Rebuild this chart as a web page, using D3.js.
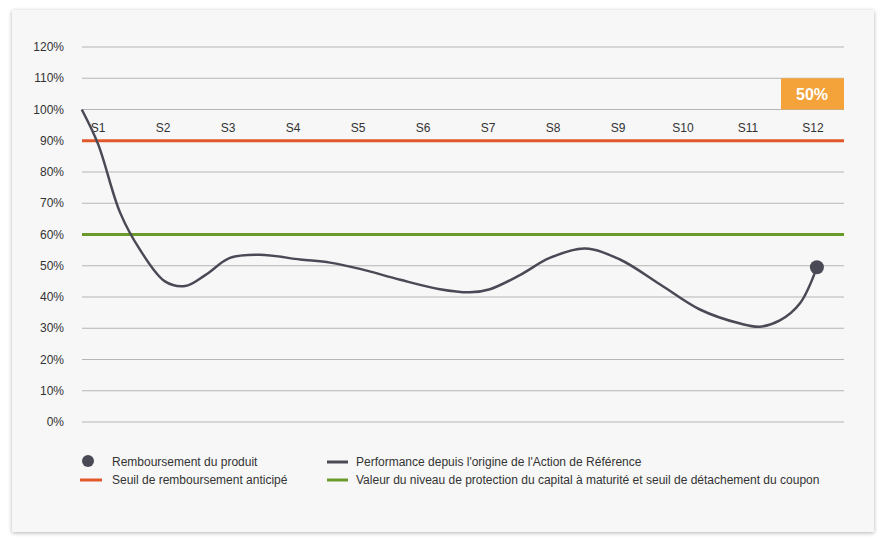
<!DOCTYPE html>
<html><head><meta charset="utf-8">
<script src="https://cdn.jsdelivr.net/npm/d3@7"></script>
<style>
body{margin:0;background:#fff;font-family:"Liberation Sans",Arial,sans-serif;}
.card{position:absolute;left:12px;top:10px;width:862px;height:522px;background:#f7f7f7;box-shadow:0 1px 4px rgba(0,0,0,0.3);}
svg{position:absolute;left:0;top:0;}
</style></head>
<body><div class="card"></div><div id="chart"></div>
<script>
const yTicks = [0,10,20,30,40,50,60,70,80,90,100,110,120];
const sessions = ["S1","S2","S3","S4","S5","S6","S7","S8","S9","S10","S11","S12"];
const perfT = [0.75,1.0,1.34,1.65,2.03,2.34,2.65,3.03,3.49,4.11,4.57,5.03,5.65,6.26,6.72,7.03,7.49,7.95,8.49,9.03,9.65,10.26,10.88,11.18,11.49,11.8,12.06];
const perfV = [100,89,67,55,45,43.5,47,52.5,53.5,52,51,49,45.5,42.5,41.5,42.5,47,52.5,55.5,52,44,36,31.5,30.5,32.5,38,49.5];
const autocallLevel = 90, protectionLevel = 60, coupon = "50%";

const svg = d3.select("#chart").append("svg").attr("width",887).attr("height",543);
const y = d3.scaleLinear().domain([0,120]).range([422,47]);
const x = d3.scaleLinear().domain([0,12]).range([33,813]);
const L = 82, R = 844;

svg.append("g").selectAll("line").data(yTicks).join("line")
  .attr("x1",L).attr("x2",R).attr("y1",d=>y(d)).attr("y2",d=>y(d))
  .attr("stroke","#b5b5b5").attr("stroke-width",1);
svg.append("g").selectAll("text").data(yTicks).join("text")
  .attr("x",64).attr("y",d=>y(d)+4).attr("text-anchor","end")
  .attr("font-size",12).attr("fill","#333").text(d=>d+"%");

svg.append("rect").attr("x",781).attr("y",y(110)).attr("width",R-781).attr("height",y(100)-y(110)).attr("fill","#f4a23a");
svg.append("text").attr("x",812).attr("y",y(105)+6).attr("text-anchor","middle").attr("font-size",16).attr("font-weight","bold").attr("fill","#fff").text(coupon);

svg.append("g").selectAll("text").data(sessions).join("text")
  .attr("x",(d,i)=>x(i+1)).attr("y",132).attr("text-anchor","middle")
  .attr("font-size",12).attr("fill","#333").text(d=>d);

svg.append("line").attr("x1",L).attr("x2",R).attr("y1",y(autocallLevel)).attr("y2",y(autocallLevel)).attr("stroke","#e2582a").attr("stroke-width",3);
svg.append("line").attr("x1",L).attr("x2",R).attr("y1",y(protectionLevel)).attr("y2",y(protectionLevel)).attr("stroke","#6b9a2c").attr("stroke-width",3);

const pts = perfT.map((t,i)=>[x(t),y(perfV[i])]);
svg.append("path").attr("d",d3.line().curve(d3.curveCatmullRom)(pts))
  .attr("fill","none").attr("stroke","#4a4a56").attr("stroke-width",2.5);
const last = pts[pts.length-1];
svg.append("circle").attr("cx",last[0]).attr("cy",last[1]).attr("r",7).attr("fill","#4a4a56");

const lg = svg.append("g").attr("font-size",12).attr("fill","#333");
lg.append("circle").attr("cx",88).attr("cy",461).attr("r",6).attr("fill","#4a4a56");
lg.append("text").attr("x",112).attr("y",466).text("Remboursement du produit");
lg.append("line").attr("x1",80).attr("x2",102).attr("y1",480).attr("y2",480).attr("stroke","#e2582a").attr("stroke-width",3);
lg.append("text").attr("x",112).attr("y",484).text("Seuil de remboursement anticipé");
lg.append("line").attr("x1",327).attr("x2",348).attr("y1",462).attr("y2",462).attr("stroke","#4a4a56").attr("stroke-width",3);
lg.append("text").attr("x",356).attr("y",466).text("Performance depuis l'origine de l'Action de Référence");
lg.append("line").attr("x1",327).attr("x2",348).attr("y1",480).attr("y2",480).attr("stroke","#6b9a2c").attr("stroke-width",3);
lg.append("text").attr("x",356).attr("y",484).text("Valeur du niveau de protection du capital à maturité et seuil de détachement du coupon");
</script></body></html>
